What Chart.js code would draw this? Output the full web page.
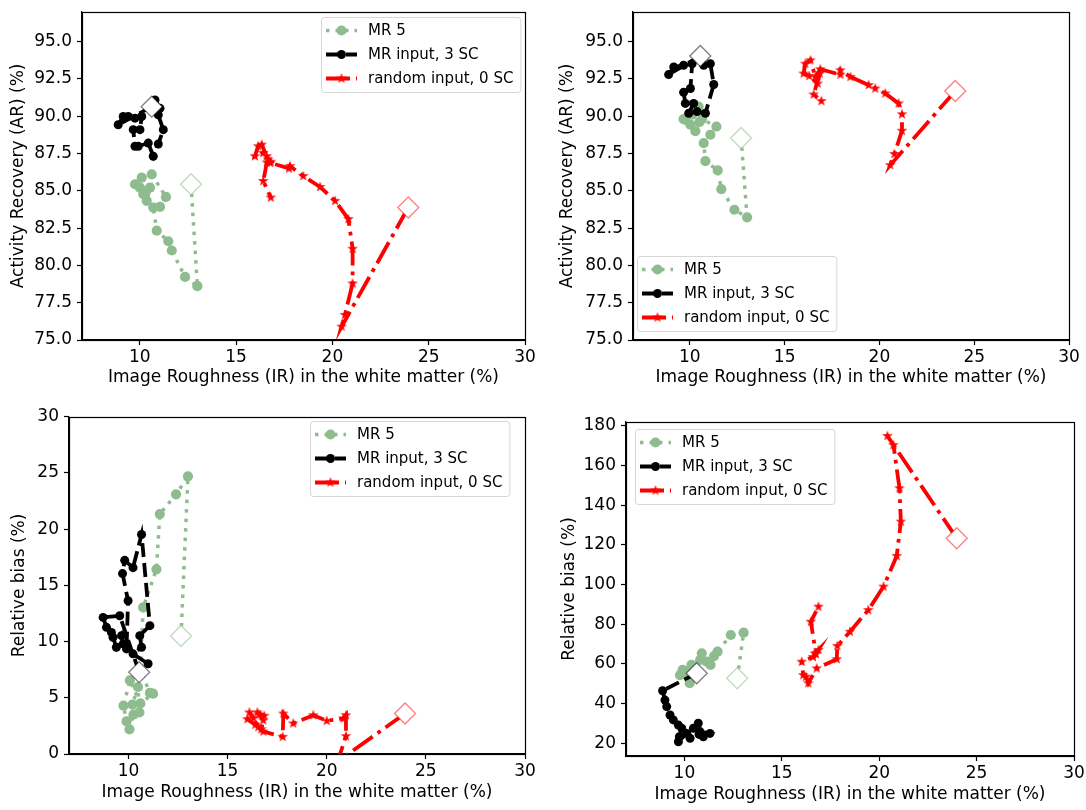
<!DOCTYPE html>
<html lang="en">
<head>
<meta charset="UTF-8">
<title>IR vs AR and relative bias</title>
<script src="https://cdn.jsdelivr.net/npm/chart.js"></script>
<style>
  body { margin: 0; background: #fff; }
  #wrap { position: relative; width: 1086px; height: 810px; overflow: hidden; }
  #wrap canvas { position: absolute; }
</style>
</head>
<body>
<div id="wrap">
  <canvas id="tl" width="543" height="405" style="left:0;top:0;width:543px;height:405px"></canvas>
  <canvas id="tr" width="543" height="405" style="left:543px;top:0;width:543px;height:405px"></canvas>
  <canvas id="bl" width="543" height="405" style="left:0;top:405px;width:543px;height:405px"></canvas>
  <canvas id="br" width="543" height="405" style="left:543px;top:405px;width:543px;height:405px"></canvas>
</div>
<script>
// ---- data (IR on x, metric on y); first point of every series is the start (diamond) ----
const X_TICKS = [10, 15, 20, 25, 30];
const AR_TICKS = [75, 77.5, 80, 82.5, 85, 87.5, 90, 92.5, 95];
const BIAS_TICKS_L = [0, 5, 10, 15, 20, 25, 30];
const BIAS_TICKS_R = [20, 40, 60, 80, 100, 120, 140, 160, 180];
const LEGEND_LABELS = ['MR 5', 'MR input, 3 SC', 'random input, 0 SC'];

// top left: activity recovery
const tlGreenX = [12.66, 12.99, 12.35, 11.66, 11.48, 10.88, 10.70, 11.05, 11.36, 10.62, 10.10, 9.75, 10.01, 10.18, 10.36, 10.53, 10.3];
const tlGreenY = [85.44, 78.61, 79.23, 81.0, 81.62, 82.33, 83.88, 83.93, 84.59, 86.1, 85.88, 85.44, 85.21, 84.77, 84.33, 85.21, 84.9];
const tlBlackX = [10.62, 8.88, 9.14, 9.40, 9.75, 10.1, 10.01, 9.66, 9.75, 9.92, 10.44, 10.70, 10.96, 11.22, 10.96, 11.05, 10.79];
const tlBlackY = [90.64, 89.43, 89.98, 89.98, 89.87, 89.98, 89.10, 89.10, 87.99, 87.99, 88.2, 87.32, 88.14, 89.10, 90.09, 90.53, 91.09];
const tlRedX = [23.94, 20.48, 20.65, 21.05, 21.05, 20.83, 20.14, 19.36, 18.49, 17.80, 17.75, 16.76, 16.59, 16.33, 16.15, 15.98, 16.41, 16.67, 16.8, 16.6, 16.41, 16.8];
const tlRedY = [83.88, 75.9, 76.68, 78.79, 81.12, 83.11, 84.33, 85.26, 85.99, 86.66, 86.5, 86.88, 87.32, 88.1, 87.99, 87.32, 87.54, 87.1, 86.95, 86.9, 85.66, 84.55];

// top right: activity recovery
const trGreenX = [12.70, 13.02, 12.35, 11.66, 11.47, 10.82, 10.73, 11.08, 11.4, 10.64, 10.46, 10.12, 9.67, 9.76, 10.03, 10.29, 10.5];
const trGreenY = [88.54, 83.22, 83.73, 85.11, 86.37, 86.99, 88.2, 88.76, 89.31, 89.8, 90.64, 90.1, 89.8, 89.76, 89.43, 89.0, 89.6];
const trBlackX = [10.55, 8.88, 9.15, 9.67, 10.12, 10.03, 9.67, 9.76, 10.2, 9.94, 10.38, 10.82, 11.26, 11.08, 10.73];
const trBlackY = [94.04, 92.79, 93.3, 93.42, 93.52, 91.86, 91.6, 90.86, 90.86, 90.2, 90.31, 90.2, 92.13, 93.52, 93.42];
const trRedX = [24.0, 20.57, 20.79, 21.19, 21.19, 21.01, 20.31, 19.78, 19.43, 18.47, 17.94, 17.94, 16.88, 16.62, 16.36, 16.09, 16.0, 16.3, 16.74, 16.85, 16.53, 16.94];
const trRedY = [91.69, 86.72, 87.47, 89.03, 90.13, 90.86, 91.53, 91.86, 92.09, 92.64, 93.08, 92.79, 93.15, 92.64, 93.75, 93.52, 92.86, 92.7, 92.19, 92.86, 91.46, 91.02];

// bottom left: relative bias
const blGreenX = [12.65, 13.0, 12.4, 11.58, 11.41, 10.74, 10.6, 11.08, 11.24, 10.6, 10.07, 9.75, 9.9, 10.05, 10.25, 10.55, 10.48, 10.2];
const blGreenY = [10.5, 24.7, 23.1, 21.35, 16.43, 13.04, 7.5, 5.43, 5.37, 4.5, 6.55, 4.3, 2.9, 2.2, 3.5, 3.7, 5.96, 4.4];
const blBlackX = [10.54, 9.56, 8.72, 8.89, 9.14, 9.22, 9.39, 9.65, 9.73, 9.9, 9.98, 9.70, 9.81, 10.23, 10.66, 11.08, 10.57, 10.66, 10.23, 10.99];
const blBlackY = [7.28, 12.3, 12.15, 11.27, 10.82, 10.38, 9.5, 10.53, 9.8, 9.35, 13.63, 16.05, 17.23, 16.58, 19.53, 11.42, 10.53, 9.5, 8.91, 8.03];
const blRedX = [23.95, 20.45, 20.62, 20.97, 20.97, 20.84, 20.0, 19.32, 18.31, 17.81, 17.78, 16.8, 16.55, 16.3, 16.1, 16.0, 16.4, 16.7, 16.8, 16.6, 16.5, 16.85];
const blRedY = [3.6, -0.8, -0.3, 1.59, 3.45, 3.16, 2.95, 3.45, 2.72, 3.6, 1.53, 2.0, 2.4, 3.2, 3.7, 3.1, 2.6, 2.2, 3.0, 3.5, 3.7, 3.4];

// bottom right: relative bias
const brGreenX = [12.71, 13.04, 12.38, 11.7, 11.52, 10.89, 11.14, 11.34, 10.8, 10.36, 10.1, 9.77, 9.91, 10.27, 10.5];
const brGreenY = [52.8, 75.8, 74.6, 66.2, 64.0, 65.4, 61.15, 59.5, 62.0, 59.5, 56.1, 54.4, 57.0, 50.3, 57.5];
const brBlackX = [10.63, 8.88, 9.0, 9.09, 9.26, 9.43, 9.69, 9.86, 9.74, 9.69, 10.12, 10.29, 10.46, 10.71, 10.8, 11.31, 10.97, 10.75];
const brBlackY = [55.3, 46.5, 41.8, 38.5, 34.3, 31.8, 29.2, 27.6, 23.3, 20.8, 25.0, 22.5, 27.6, 30.1, 25.9, 25.0, 23.3, 24.5];
const brRedX = [23.98, 20.42, 20.73, 21.04, 21.11, 20.9, 20.22, 19.44, 18.5, 17.85, 17.82, 16.79, 16.36, 16.24, 16.1, 16.02, 16.6, 16.71, 16.88, 16.75, 16.49, 16.88];
const brRedY = [123.4, 175.0, 170.4, 148.6, 131.8, 114.5, 99.0, 87.2, 76.3, 69.1, 62.4, 57.8, 50.3, 53.6, 54.4, 61.15, 63.5, 65.4, 67.1, 65.0, 81.3, 88.9];

// ---- styles ----
const FONT = 'DejaVu Sans';

function starImage(r, color) {
  const c = document.createElement('canvas');
  const s = Math.ceil(r * 2 + 2);
  c.width = s; c.height = s;
  const g = c.getContext('2d');
  g.fillStyle = color;
  g.beginPath();
  for (let i = 0; i < 10; i++) {
    const rr = i % 2 ? r * 0.382 : r;
    const a = -Math.PI / 2 + i * Math.PI / 5;
    const px = s / 2 + rr * Math.cos(a), py = s / 2 + rr * Math.sin(a);
    if (i) g.lineTo(px, py); else g.moveTo(px, py);
  }
  g.closePath();
  g.fill();
  return c;
}

const STYLES = [
  { color: '#8fbc8f', faint: 'rgba(143,188,143,0.55)', width: 3.5, dash: [3.5, 6], point: 'circle', radius: 5.1, order: 3 },
  { color: '#000000', faint: 'rgba(0,0,0,0.5)', width: 3.8, dash: [14, 6], point: 'circle', radius: 4.5, order: 2 },
  { color: '#ff0000', faint: 'rgba(255,0,0,0.5)', width: 3.8, dash: [24, 6, 3.8, 6], point: starImage(5.6, '#ff0000'), radius: 4.5, order: 1 }
];

// frame round the plot area (matplotlib spines)
const frame = {
  id: 'frame',
  afterDatasetsDraw(chart) {
    const { ctx, chartArea: a } = chart;
    ctx.save();
    ctx.strokeStyle = '#000';
    ctx.lineWidth = 1.2;
    ctx.strokeRect(Math.round(a.left) + 0.5, Math.round(a.top) + 0.5, Math.round(a.right - a.left), Math.round(a.bottom - a.top));
    ctx.restore();
  }
};

// legend drawn inside the axes
const insideLegend = {
  id: 'insideLegend',
  afterDraw(chart, args, o) {
    const ctx = chart.ctx;
    ctx.save();
    ctx.font = '15px "' + FONT + '"';
    const tw = Math.max(...LEGEND_LABELS.map(t => ctx.measureText(t).width));
    const w = 47 + tw + 7, h = 75;
    ctx.beginPath();
    ctx.roundRect(o.x + 0.5, o.y + 0.5, w, h, 3);
    ctx.fillStyle = 'rgba(255,255,255,0.8)';
    ctx.fill();
    ctx.strokeStyle = 'rgba(204,204,204,0.8)';
    ctx.lineWidth = 1;
    ctx.stroke();
    STYLES.forEach((st, i) => {
      const yy = o.y + 13.5 + i * 24;
      ctx.beginPath();
      ctx.setLineDash(st.dash);
      ctx.lineWidth = st.width;
      ctx.strokeStyle = st.color;
      ctx.moveTo(o.x + 5, yy);
      ctx.lineTo(o.x + 36, yy);
      ctx.stroke();
      ctx.setLineDash([]);
      const mx = o.x + 20.5;
      if (typeof st.point === 'string') {
        ctx.beginPath();
        ctx.arc(mx, yy, st.radius, 0, Math.PI * 2);
        ctx.fillStyle = st.color;
        ctx.fill();
      } else {
        ctx.drawImage(st.point, mx - st.point.width / 2, yy - st.point.height / 2);
      }
      ctx.fillStyle = '#000';
      ctx.textBaseline = 'middle';
      ctx.fillText(LEGEND_LABELS[i], o.x + 47, yy + 1);
    });
    ctx.restore();
  }
};

function buildChart(p) {
  const datasets = [];
  STYLES.forEach((st, i) => {
    const [xs, ys] = p.series[i];
    datasets.push({
      label: LEGEND_LABELS[i],
      data: xs.map((x, k) => ({ x, y: ys[k] })),
      showLine: true,
      tension: 0,
      fill: false,
      borderColor: st.color,
      borderWidth: st.width,
      borderDash: st.dash,
      pointStyle: st.point,
      pointRadius: st.radius,
      pointBackgroundColor: st.color,
      pointBorderColor: st.color,
      pointBorderWidth: 0,
      order: st.order
    });
    datasets.push({
      label: LEGEND_LABELS[i] + ' start',
      data: [{ x: xs[0], y: ys[0] }],
      showLine: false,
      pointStyle: 'rectRot',
      pointRadius: 10.5,
      pointBackgroundColor: '#ffffff',
      pointBorderColor: st.faint,
      pointBorderWidth: 1.3,
      order: 0
    });
  });

  const tickFont = { family: FONT, size: 17 };
  new Chart(document.getElementById(p.id), {
    type: 'scatter',
    data: { datasets },
    options: {
      responsive: false,
      animation: false,
      devicePixelRatio: 1,
      events: [],
      layout: { padding: { top: p.top, right: p.right, bottom: 0, left: 0 } },
      plugins: {
        legend: { display: false },
        tooltip: { enabled: false },
        insideLegend: p.legend
      },
      scales: {
        x: {
          type: 'linear',
          min: 7,
          max: 30,
          afterBuildTicks: s => { s.ticks = X_TICKS.map(v => ({ value: v })); },
          afterFit: s => { s.height = p.xh; s.paddingLeft = 0; s.paddingRight = 0; },
          grid: { drawOnChartArea: false, drawTicks: true, tickLength: 5, tickColor: '#000', tickWidth: 1.2 },
          border: { display: true, color: '#000', width: 1.2 },
          ticks: { color: '#000', font: tickFont, padding: 2, maxRotation: 0, autoSkip: false },
          title: {
            display: true,
            text: 'Image Roughness (IR) in the white matter (%)',
            color: '#000',
            font: tickFont,
            padding: { top: 0, bottom: p.xt }
          }
        },
        y: {
          type: 'linear',
          min: p.ymin,
          max: p.ymax,
          afterBuildTicks: s => { s.ticks = p.yticks.map(v => ({ value: v })); },
          afterFit: s => { s.width = p.left; s.paddingTop = 0; s.paddingBottom = 0; },
          grid: { drawOnChartArea: false, drawTicks: true, tickLength: 5, tickColor: '#000', tickWidth: 1.2 },
          border: { display: true, color: '#000', width: 1.2 },
          ticks: {
            color: '#000',
            font: tickFont,
            padding: 5,
            autoSkip: false,
            callback: v => v.toFixed(p.dec)
          },
          title: {
            display: true,
            text: p.ylabel,
            color: '#000',
            font: tickFont,
            padding: { top: p.yt, bottom: 0 }
          }
        }
      }
    },
    plugins: [frame, insideLegend]
  });
}

const panels = [
  { id: 'tl', ylabel: 'Activity Recovery (AR) (%)', ymin: 75, ymax: 97, yticks: AR_TICKS, dec: 1,
    series: [[tlGreenX, tlGreenY], [tlBlackX, tlBlackY], [tlRedX, tlRedY]],
    left: 82, right: 18, top: 9, xh: 65, xt: 16.8, yt: 8.8, legend: { x: 321, y: 17 } },
  { id: 'tr', ylabel: 'Activity Recovery (AR) (%)', ymin: 75, ymax: 97, yticks: AR_TICKS, dec: 1,
    series: [[trGreenX, trGreenY], [trBlackX, trBlackY], [trRedX, trRedY]],
    left: 90, right: 17, top: 9, xh: 65, xt: 16.8, yt: 14.8, legend: { x: 94, y: 256 } },
  { id: 'bl', ylabel: 'Relative bias (%)', ymin: 0, ymax: 30, yticks: BIAS_TICKS_L, dec: 0,
    series: [[blGreenX, blGreenY], [blBlackX, blBlackY], [blRedX, blRedY]],
    left: 69, right: 18, top: 10, xh: 56, xt: 6.8, yt: 9.8, legend: { x: 310, y: 16 } },
  { id: 'br', ylabel: 'Relative bias (%)', ymin: 13.6, ymax: 182, yticks: BIAS_TICKS_R, dec: 0,
    series: [[brGreenX, brGreenY], [brBlackX, brBlackY], [brRedX, brRedY]],
    left: 83, right: 12, top: 17, xh: 54, xt: 4.8, yt: 16.4, legend: { x: 92, y: 24 } }
];

panels.forEach(buildChart);
</script>
</body>
</html>
